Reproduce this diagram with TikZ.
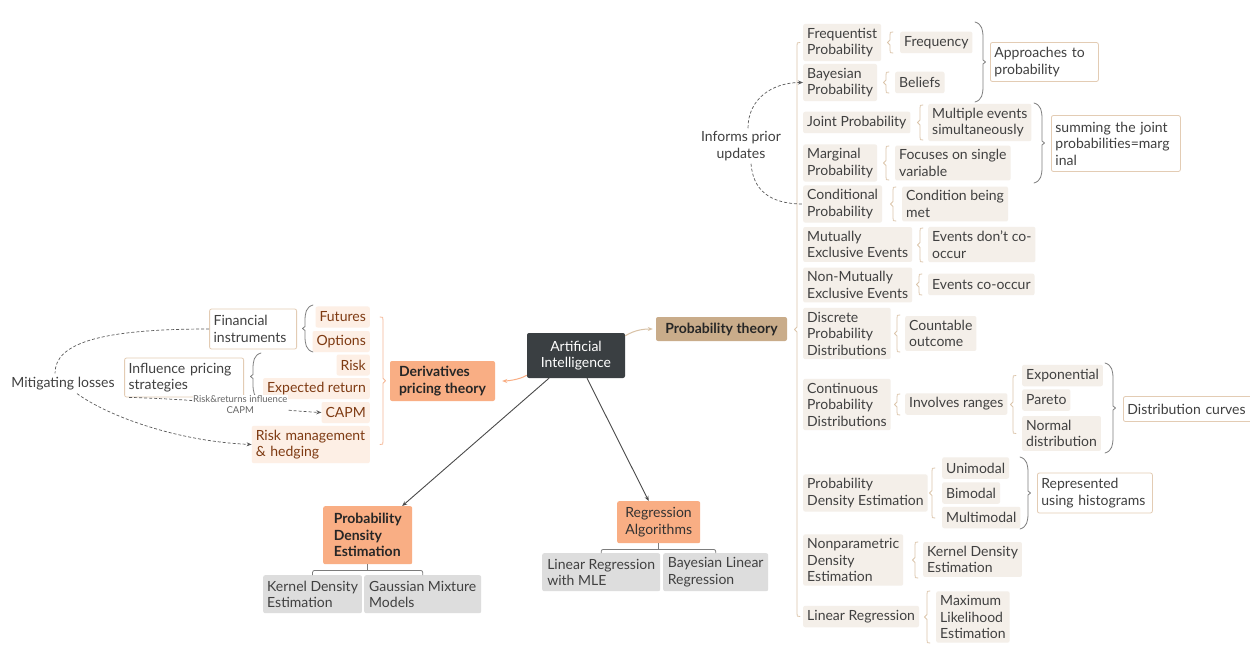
\documentclass[tikz,border=0pt]{standalone}
\usepackage{fontspec}
\setmainfont{Lato}
\usetikzlibrary{arrows.meta,calc}

\definecolor{aidark}{HTML}{3A3F42}
\definecolor{tanmain}{HTML}{C9AC8A}
\definecolor{orangemain}{HTML}{F9AE84}
\definecolor{orangelight}{HTML}{FDEFE5}
\definecolor{orangeline}{HTML}{F5B897}
\definecolor{brownink}{HTML}{7E3A12}
\definecolor{beige}{HTML}{F4EFE9}
\definecolor{tanline}{HTML}{DCC6AC}
\definecolor{sumborder}{HTML}{E3CCB4}
\definecolor{grayfill}{HTML}{DDDDDD}
\definecolor{inkgray}{HTML}{404040}
\definecolor{linegray}{HTML}{7D7D7D}
\definecolor{arrowgray}{HTML}{4A4A4A}
\definecolor{reldash}{HTML}{5A5A5A}

% curly brace opening towards the children (hooks right, tick left)
\newcommand\kidbrace[4][tanline]{%
  \draw[bracestyle,#1] ({#2+3},#3) .. controls (#2,#3) .. (#2,{#3+3})
    -- (#2,{(#3+#4)/2-2.5}) -- ({#2-2.5},{(#3+#4)/2}) -- (#2,{(#3+#4)/2+2.5})
    -- (#2,{#4-3}) .. controls (#2,#4) .. ({#2+3},#4);}
% mirrored brace for the left-hand branch (hooks left, tick right)
\newcommand\kidbraceR[4][orangeline]{%
  \draw[bracestyle,#1] ({#2-3},#3) .. controls (#2,#3) .. (#2,{#3+3})
    -- (#2,{(#3+#4)/2-2.5}) -- ({#2+2.5},{(#3+#4)/2}) -- (#2,{(#3+#4)/2+2.5})
    -- (#2,{#4-3}) .. controls (#2,#4) .. ({#2-3},#4);}
% summary parenthesis, closing to the right
\newcommand\sumparen[3]{%
  \draw[parenstyle] ({#1-8},#2) .. controls ({#1-1},{#2+2}) and (#1,{#2+8}) .. (#1,{#2+16})
    -- (#1,{(#2+#3)/2-2}) -- ({#1+2.5},{(#2+#3)/2}) -- (#1,{(#2+#3)/2+2})
    -- (#1,{#3-16}) .. controls (#1,{#3-8}) and ({#1-1},{#3-2}) .. ({#1-8},#3);}
% summary parenthesis, closing to the left
\newcommand\sumparenL[3]{%
  \draw[parenstyle] ({#1+8},#2) .. controls ({#1+1},{#2+2}) and (#1,{#2+8}) .. (#1,{#2+16})
    -- (#1,{(#2+#3)/2-2}) -- ({#1-2.5},{(#2+#3)/2}) -- (#1,{(#2+#3)/2+2})
    -- (#1,{#3-16}) .. controls (#1,{#3-8}) and ({#1+1},{#3-2}) .. ({#1+8},#3);}

\begin{document}
\begin{tikzpicture}[x=1pt,y=-1pt,
  base/.style={font=\fontsize{14}{16.5}\selectfont, align=left, inner xsep=4pt,
    inner ysep=4pt, minimum height=21.5pt, rounded corners=2pt, text=inkgray},
  rootbox/.style={base, fill=aidark, text=white, align=center},
  ptbox/.style={base, fill=tanmain, text=black!85, font=\fontsize{14}{16.5}\selectfont\bfseries},
  topicbox/.style={base, fill=orangemain, text=black!85, font=\fontsize{14}{16.5}\selectfont\bfseries},
  rabox/.style={base, fill=orangemain, text=black!80},
  graybox/.style={base, fill=grayfill},
  dkid/.style={base, fill=orangelight, text=brownink, minimum height=21pt},
  pkid/.style={base, fill=beige},
  sumbox/.style={base, fill=white, draw=sumborder, line width=0.8pt},
  plain/.style={font=\fontsize{14}{16.5}\selectfont, text=inkgray, align=center, inner sep=1pt},
  rellabel/.style={font=\fontsize{9.5}{11}\selectfont, text=black!60, align=center,
    fill=white, inner sep=0.5pt},
  bracestyle/.style={line width=0.8pt, line join=round, line cap=round},
  parenstyle/.style={draw=linegray, line width=0.8pt, line join=round, line cap=round},
  rel/.style={draw=reldash, line width=0.7pt, dash pattern=on 3pt off 2pt},
  tip/.style={-{Stealth[length=5pt,width=4pt]}},
  treeline/.style={draw=linegray, line width=0.8pt, rounded corners=2pt}
]
\useasboundingbox (0,0) rectangle (1250,668);
\fill[white] (0,0) rectangle (1250,668);

% ---------- central topic and main branches ----------
\node[rootbox, minimum width=98, minimum height=45] (ai) at (576,355.5) {Artificial\\Intelligence};
\node[ptbox, minimum width=131, minimum height=24] (pt) at (721.5,329) {Probability theory};
\node[topicbox, minimum width=105, minimum height=40] (dpt) at (442.5,381) {Derivatives\\pricing theory};
\node[topicbox, minimum width=89, minimum height=58, anchor=north west] (pde) at (323,506) {Probability\\Density\\Estimation};
\node[rabox, minimum width=83, minimum height=42, anchor=north west] (ra) at (617,501) {Regression\\Algorithms};

\draw[tanline!80!tanmain, line width=1pt, tip, shorten >=3pt]
  ([yshift=-3pt]ai.north east) .. controls +(10,-6) and +(-12,0) .. (pt.west);
\draw[orangemain, line width=1pt, tip, shorten >=7pt]
  ([yshift=3pt]ai.south west) .. controls +(-8,5) and +(10,0) .. (dpt.east);
\draw[arrowgray, line width=0.9pt, tip] ([xshift=-27pt]ai.south) -- ([xshift=34.5pt]pde.north);
\draw[arrowgray, line width=0.9pt, tip] ([xshift=11pt]ai.south) -- ([xshift=-10pt]ra.north);

% ---------- regression algorithms ----------
\node[graybox, minimum width=118, minimum height=38, anchor=north west] (lrm) at (542,553) {Linear Regression\\with MLE};
\node[graybox, minimum width=105, minimum height=38, anchor=north west] (blr) at (663,553) {Bayesian Linear\\Regression};
\coordinate (raj) at ([yshift=-6pt]ra.south);
\draw[treeline] (ra.south) -- (raj);
\draw[treeline] (lrm.north) |- (raj) -| (blr.north);

% ---------- probability density estimation ----------
\node[graybox, minimum width=97, minimum height=38, anchor=north west] (kdeg) at (263,575) {Kernel Density\\Estimation};
\node[graybox, minimum width=117, minimum height=38, anchor=north west] (gmm) at (364,575) {Gaussian Mixture\\Models};
\coordinate (pdej) at ([yshift=-6pt]pde.south);
\draw[treeline] (pde.south) -- (pdej);
\draw[treeline] (kdeg.north) |- (pdej) -| (gmm.north);

% ---------- derivatives pricing theory ----------
\node[dkid, anchor=east] (fut) at (370,317) {Futures};
\node[dkid, anchor=east] (opt) at (370,341.5) {Options};
\node[dkid, anchor=east] (risk) at (370,365) {Risk};
\node[dkid, anchor=east] (er) at (370,388.5) {Expected return};
\node[dkid, anchor=east] (capm) at (370,412.5) {CAPM};
\node[dkid, anchor=east, text width=110pt] (rmh) at (370,444.5) {Risk management\\\& hedging};
\kidbraceR{383}{317}{444.5}

\node[sumbox, anchor=east, minimum height=40, text width=79pt] (fi) at (297,329) {Financial\\instruments};
\node[sumbox, anchor=east, minimum height=39, text width=111pt] (ips) at (244,377.5) {Influence pricing\\strategies};
\sumparenL{305}{305}{352}
\sumparenL{253}{353}{400}

\node[plain] (ml) at (63,384) {Mitigating losses};
\draw[rel] (fi.west) .. controls +(-110,0) and +(0,-30) .. ($(ml.north)+(-8,-3)$);
\draw[rel, tip] ($(ml.south)+(14,2)$) .. controls +(35,25) and +(-70,-3) .. (rmh.west);
\draw[rel, tip] ([xshift=5pt]ips.south west) .. controls +(100,3) and +(-60,-3) .. (capm.west)
  node[rellabel, pos=0.5] {Risk\&returns influence\\CAPM};

% ---------- probability theory ----------
\node[pkid, anchor=west] (fp) at (803,42.5) {Frequentist\\Probability};
\node[pkid, anchor=west] (bp) at (803,82.5) {Bayesian\\Probability};
\node[pkid, anchor=west] (jp) at (803,122.5) {Joint Probability};
\node[pkid, anchor=west] (mp) at (803,163) {Marginal\\Probability};
\node[pkid, anchor=west] (cp) at (803,204) {Conditional\\Probability};
\node[pkid, anchor=west] (me) at (803,244.5) {Mutually\\Exclusive Events};
\node[pkid, anchor=west] (nme) at (803,285) {Non-Mutually\\Exclusive Events};
\node[pkid, anchor=west] (dpd) at (803,333.5) {Discrete\\Probability\\Distributions};
\node[pkid, anchor=west] (cpd) at (803,404.5) {Continuous\\Probability\\Distributions};
\node[pkid, anchor=west] (pdr) at (803,493) {Probability\\Density Estimation};
\node[pkid, anchor=west] (npd) at (803,560) {Nonparametric\\Density\\Estimation};
\node[pkid, anchor=west] (lr) at (803,616.5) {Linear Regression};
\kidbrace{797}{42.5}{616.5}

\node[pkid, anchor=west] (freq) at (900,42.5) {Frequency};
\node[pkid, anchor=west] (bel) at (895,82.5) {Beliefs};
\node[pkid, anchor=west] (mes) at (928,122.5) {Multiple events\\simultaneously};
\node[pkid, anchor=west] (fsv) at (895,163) {Focuses on single\\variable};
\node[pkid, anchor=west] (cbm) at (902,204) {Condition being\\met};
\node[pkid, anchor=west] (edc) at (928,244.5) {Events don’t co-\\occur};
\node[pkid, anchor=west] (eco) at (928,284.5) {Events co-occur};
\node[pkid, anchor=west] (cou) at (905,333.5) {Countable\\outcome};
\node[pkid, anchor=west] (ir) at (905,404) {Involves ranges};
\node[pkid, anchor=west] (expo) at (1022,375.5) {Exponential};
\node[pkid, anchor=west] (par) at (1022,400) {Pareto};
\node[pkid, anchor=west] (nd) at (1022,433.5) {Normal\\distribution};
\node[pkid, anchor=west] (uni) at (942,468) {Unimodal};
\node[pkid, anchor=west] (bi) at (942,493) {Bimodal};
\node[pkid, anchor=west] (mm) at (942,517.5) {Multimodal};
\node[pkid, anchor=west] (kde) at (923,559.5) {Kernel Density\\Estimation};
\node[pkid, anchor=west] (mle) at (936,617) {Maximum\\Likelihood\\Estimation};

\kidbrace{890}{32}{53}
\kidbrace{886}{72}{93}
\kidbrace{920}{105}{140}
\kidbrace{886}{146}{180}
\kidbrace{893}{187}{221}
\kidbrace{920}{228}{262}
\kidbrace{919}{274}{295}
\kidbrace{897}{315}{352}
\kidbrace{897}{394}{415}
\kidbrace{1013}{375.5}{433.5}
\kidbrace{932}{468}{518}
\kidbrace{915}{542}{578}
\kidbrace{927}{591}{643}

% summaries
\node[sumbox, anchor=west, minimum height=39, text width=100pt] (atp) at (990,62) {Approaches to\\probability};
\node[sumbox, anchor=west, minimum height=56, text width=121pt] (stj) at (1051,143.5) {summing the joint\\probabilities=marg\\inal};
\node[sumbox, anchor=west, minimum height=25, text width=132pt] (dc) at (1123,409) {Distribution curves};
\node[sumbox, anchor=west, minimum height=40, text width=107pt] (ruh) at (1037,493) {Represented\\using histograms};
\sumparen{983}{22}{102}
\sumparen{1042}{103}{183}
\sumparen{1113}{363}{453}
\sumparen{1028}{457}{529}

% relation between conditional and bayesian probability
\node[plain] (ipu) at (741,146) {Informs prior\\updates};
\draw[rel, tip] ($(ipu.north)+(7,-2)$) .. controls +(0,-30) and +(-30,0) .. (bp.west);
\draw[rel] ($(ipu.south)+(10,2)$) .. controls +(2,25) and +(-35,0) .. (cp.west);
\end{tikzpicture}
\end{document}
